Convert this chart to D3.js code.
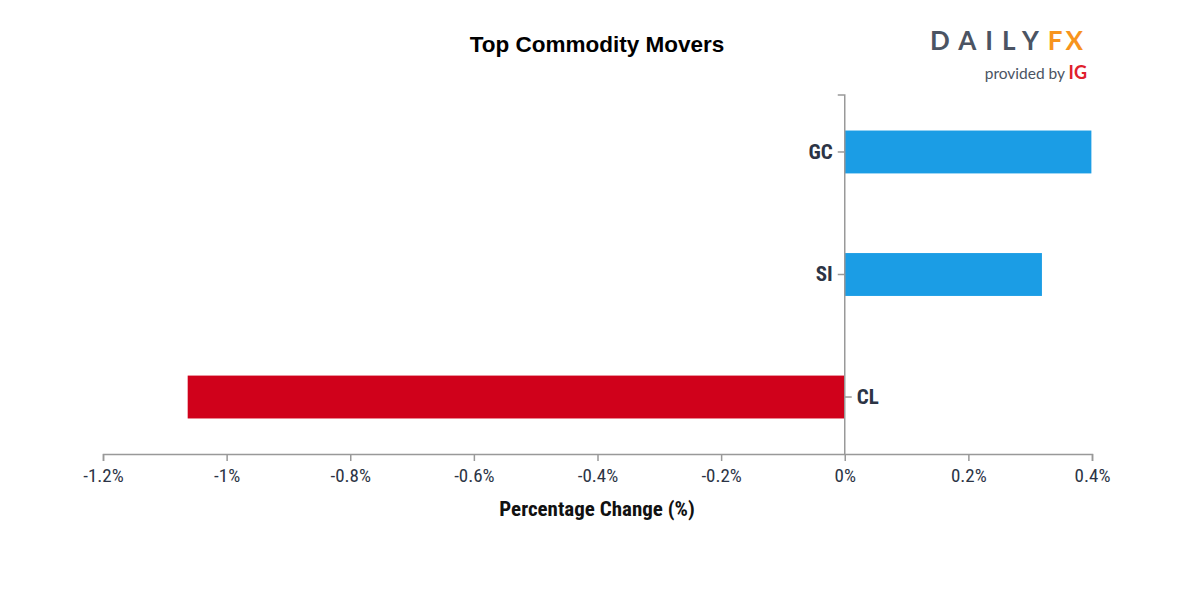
<!DOCTYPE html>
<html>
<head>
<meta charset="utf-8">
<script src="https://cdn.jsdelivr.net/npm/d3@7"></script>
<style>
  body { margin: 0; background: #fff; }
  .cond { font-family: "Roboto Condensed", Roboto, sans-serif; font-stretch: 80%; }
</style>
</head>
<body>
<div class="canvas"></div>
<script>
const categories = ["GC", "SI", "CL"];
const changes = [0.399, 0.319, -1.063];
const xTicks = [-1.2, -1, -0.8, -0.6, -0.4, -0.2, 0, 0.2, 0.4];

const W = 1200, H = 600;
const margin = { top: 95, right: 108, bottom: 146, left: 103 };
const width = W - margin.left - margin.right;
const height = H - margin.top - margin.bottom;

const svg = d3.select(".canvas").append("svg")
  .attr("width", W).attr("height", H);

const g = svg.append("g")
  .attr("transform", `translate(${margin.left},${margin.top})`);

const x = d3.scaleLinear().domain([-1.2, 0.4]).range([0, width]);
const y = d3.scaleBand().domain(categories).range([0, height])
  .paddingInner(0.65).paddingOuter(0.29);

const data = categories.map((c, i) => ({ name: c, value: changes[i] }));

// bars
g.selectAll(".bar")
  .data(data)
  .join("rect")
  .attr("x", d => x(Math.min(0, d.value)))
  .attr("width", d => Math.abs(x(d.value) - x(0)))
  .attr("y", d => y(d.name))
  .attr("height", y.bandwidth())
  .attr("fill", d => d.value >= 0 ? "#1b9de5" : "#d0011b");

// x axis
const xAxis = g.append("g")
  .attr("transform", `translate(0,${height})`)
  .call(d3.axisBottom(x).tickValues(xTicks).tickSize(7).tickSizeOuter(7)
    .tickFormat(d => `${+d.toFixed(1)}%`));
xAxis.select(".domain").attr("stroke", "#999").attr("stroke-width", 1.5);
xAxis.selectAll(".tick line").attr("stroke", "#999").attr("stroke-width", 1.5);
xAxis.selectAll(".tick text")
  .attr("class", "cond")
  .attr("y", 15)
  .attr("font-size", 19)
  .attr("fill", "#2c3445");

// y axis at zero
const yAxis = g.append("g")
  .attr("transform", `translate(${x(0)},0)`)
  .call(d3.axisLeft(y).tickSize(7).tickSizeOuter(7));
yAxis.select(".domain").attr("stroke", "#999").attr("stroke-width", 1.5)
  .attr("d", `M-7,0H0V${height}`);
yAxis.selectAll(".tick line").attr("stroke", "#999").attr("stroke-width", 1.5);
yAxis.selectAll(".tick").each(function (d) {
  const v = data.find(e => e.name === d).value;
  const t = d3.select(this);
  if (v < 0) {
    t.select("line").attr("x2", 7);
    t.select("text").attr("x", 12).attr("text-anchor", "start");
  } else {
    t.select("text").attr("x", -12);
  }
});
yAxis.selectAll(".tick text")
  .attr("class", "cond")
  .attr("font-size", 21)
  .attr("font-weight", "bold")
  .attr("fill", "#2c3445");

// title
svg.append("text")
  .attr("x", 597).attr("y", 52)
  .attr("text-anchor", "middle")
  .attr("font-family", "'Liberation Sans', Arial, sans-serif")
  .attr("font-size", 22.5).attr("font-weight", "bold")
  .attr("fill", "#000")
  .text("Top Commodity Movers");

// x axis title
svg.append("text")
  .attr("class", "cond")
  .attr("x", 597).attr("y", 516)
  .attr("text-anchor", "middle")
  .attr("font-size", 21).attr("font-weight", "bold")
  .attr("fill", "#111")
  .text("Percentage Change (%)");

// logo
const logo = svg.append("g").attr("font-family", "Lato, 'Open Sans', sans-serif");
const brand = logo.append("text")
  .attr("x", 1086).attr("y", 50)
  .attr("text-anchor", "end")
  .attr("font-size", 26).attr("font-weight", "bold")
  .attr("letter-spacing", 9);
brand.append("tspan").attr("fill", "#4b5463").text("DAILY");
brand.append("tspan").attr("fill", "#f7941d").attr("letter-spacing", 3).text("FX");

const prov = logo.append("text")
  .attr("x", 1087).attr("y", 79)
  .attr("text-anchor", "end")
  .attr("font-size", 15.5);
prov.append("tspan").attr("fill", "#4b5463").text("provided by ");
prov.append("tspan").attr("fill", "#e0202c").attr("font-weight", "bold")
  .attr("font-size", 18).text("IG");
</script>
</body>
</html>
